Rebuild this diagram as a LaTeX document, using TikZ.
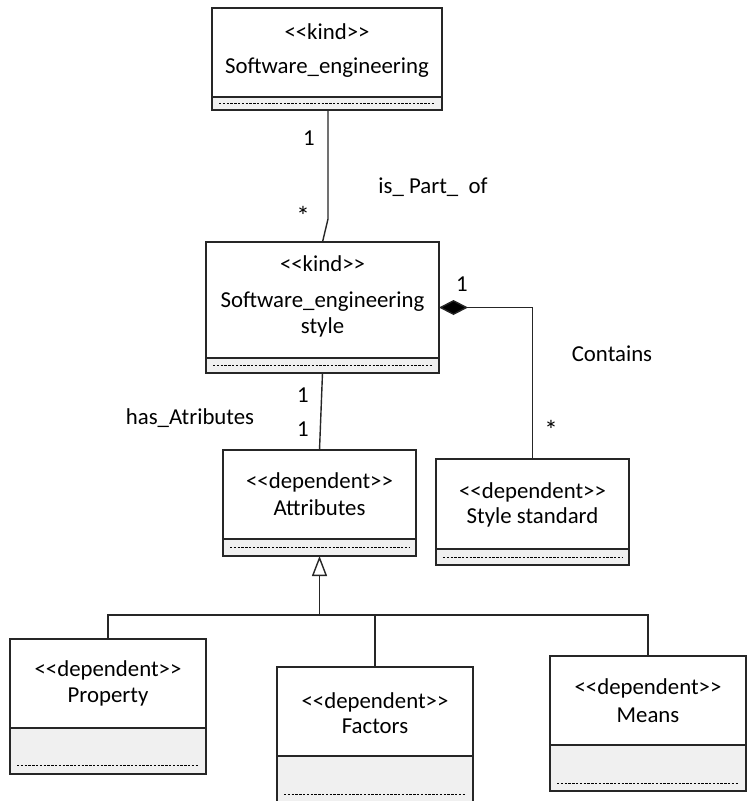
\documentclass[tikz,border=0pt]{standalone}
\usepackage{fontspec}
\setmainfont{Carlito}[Ligatures=TeXOff]
\usetikzlibrary{arrows.meta,fit}

\tikzset{
  boxline/.style={line width=1.5pt, black!85},
  classbox/.style={draw, boxline, inner sep=0pt, outer sep=0pt},
  compfill/.style={fill=black!6},
  dashline/.style={line width=1pt, black, dash pattern=on 2.4pt off 1.4pt},
  txt/.style={inner sep=0pt, font=\fontsize{22.8}{26}\selectfont},
  star/.style={inner sep=0pt, font=\fontsize{27}{30}\selectfont},
  conn/.style={line width=1.4pt, black!85},
  comp/.style={conn, {Diamond[fill=black, length=29pt, width=15pt]}-},
  gen/.style={conn, -{Triangle[open, fill=white, length=20pt, width=15pt, line width=1.4pt]}},
}

% class box: name, x1, y1, x2, y2, compartment line y, dashed line y
\newcommand\umlclass[7]{%
  \fill[compfill] (#2,#6) rectangle (#4,#5);
  \draw[boxline] (#2,#6) -- (#4,#6);
  \draw[dashline] (#2+7,#7) -- (#4-7,#7);
  \node[classbox, fit={(#2,#3) (#4,#5)}] (#1) {};
}

\begin{document}
\begin{tikzpicture}[x=1pt,y=-1pt]
\clip (0,0) rectangle (747,801);
\fill[white] (0,0) rectangle (747,801);

% classes
\umlclass{se}{212}{8}{442}{110}{97}{103.5}
\umlclass{ses}{206}{242}{439}{373}{358}{365.5}
\umlclass{att}{223}{450}{416}{556}{539}{547.5}
\umlclass{std}{436}{459}{629}{565}{549}{557}
\umlclass{prop}{10}{639}{206}{774}{728}{765}
\umlclass{fac}{277}{667}{473}{815}{756}{794}
\umlclass{means}{550}{656}{746}{791}{745}{783}

% class names
\node[txt] (se1) at (327,32) {<<kind>>};
\node[txt] (se2) at (327,68) {Software\_engineering};
\node[txt] (ses1) at (322.5,264) {<<kind>>};
\node[txt] (ses2) at (322.5,302) {Software\_engineering};
\node[txt] (ses3) at (322.5,327) {style};
\node[txt] (att1) at (319.5,482) {<<dependent>>};
\node[txt] (att2) at (319.5,508) {Attributes};
\node[txt] (std1) at (532.5,492) {<<dependent>>};
\node[txt] (std2) at (532.5,517) {Style standard};
\node[txt] (prop1) at (108,670) {<<dependent>>};
\node[txt] (prop2) at (108,697) {Property};
\node[txt] (fac1) at (375,702) {<<dependent>>};
\node[txt] (fac2) at (375,726) {Factors};
\node[txt] (means1) at (648,688) {<<dependent>>};
\node[txt] (means2) at (648,715) {Means};

% is_Part_of association
\coordinate (bend) at (328,219);
\draw[conn] (se.south -| bend) -- (bend) -- (ses.north);
\node[txt] (m1) at (309,138) {1};
\node[star] (m2) at (303,216) {*};
\node[txt] (lbl1) at (433,187) {is\_ Part\_\ \ of};

% composition
\coordinate (cbend) at (532.5,307.5);
\draw[comp] (ses.east) -- (cbend) -- (std.north);
\node[txt] (m3) at (462,284) {1};
\node[txt] (lbl2) at (612,354) {Contains};
\node[star] (m4) at (551,430) {*};

% has_Atributes association
\draw[conn] (ses.south) -- (att.north);
\node[txt] (m5) at (303,395) {1};
\node[txt] (m6) at (303,429) {1};
\node[txt] (lbl3) at (190,418) {has\_Atributes};

% generalization tree
\coordinate (bus) at (319.5,615);
\draw[conn] (prop.north) |- (bus) -| (means.north);
\draw[conn] (fac.north) -- (fac.north |- bus);
\draw[gen] (bus) -- (att.south);
\end{tikzpicture}
\end{document}
